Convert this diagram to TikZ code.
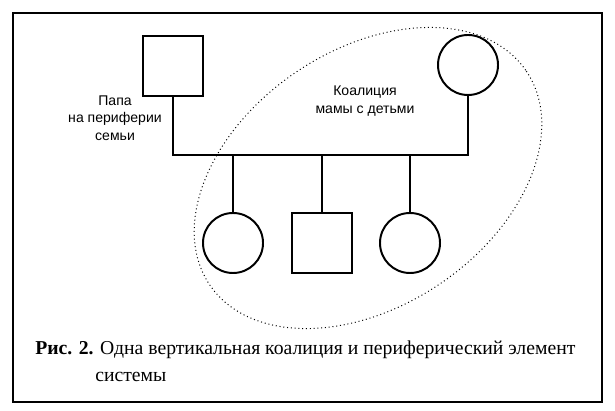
\documentclass[tikz,border=0pt]{standalone}
\usepackage{fontspec}
\setmainfont{Liberation Serif}
\newfontfamily\labelfont{Liberation Sans}
\begin{document}
\begin{tikzpicture}
[x=0.025cm,y=-0.025cm,
 male/.style={draw,rectangle,line width=1.4pt,minimum width=1.5cm,minimum height=1.52cm,inner sep=0pt},
 female/.style={draw,circle,line width=1.4pt,minimum size=1.5cm,inner sep=0pt},
 note/.style={align=center,font=\labelfont\fontsize{10}{12.5}\selectfont},
 tie/.style={line width=1.4pt}]
\useasboundingbox (0,0) rectangle (615,411);
\draw[line width=0.8pt] (13,13) rectangle (602,402);
\node[male] (dad) at (173,66) {};
\node[female] (mom) at (468,65) {};
\node[female] (c1) at (233,243) {};
\node[male] (c2) at (322,243) {};
\node[female] (c3) at (410,243) {};
\coordinate (b0) at (173,155);
\coordinate (b1) at (233,155);
\coordinate (b2) at (322,155);
\coordinate (b3) at (410,155);
\coordinate (b4) at (468,155);
\draw[tie] (dad) -- (b0) -- (b4) -- (mom);
\foreach \from/\to in {b1/c1,b2/c2,b3/c3}
\draw[tie] (\from) -- (\to);
\draw[dotted,line width=0.7pt] (368,178) ellipse [x radius=191,y radius=128,rotate=34];
\node[note] (dadnote) at (115,118) {Папа\\на периферии\\семьи};
\node[note] (momnote) at (365,101) {Коалиция\\мамы с детьми};
\node[anchor=north west,align=left,inner sep=0pt,font=\fontsize{14}{19}\selectfont] (cap) at (35,341)
{\textbf{Рис. 2.} Одна вертикальная коалиция и периферический элемент\\\hspace*{1.5cm}системы};
\end{tikzpicture}
\end{document}
